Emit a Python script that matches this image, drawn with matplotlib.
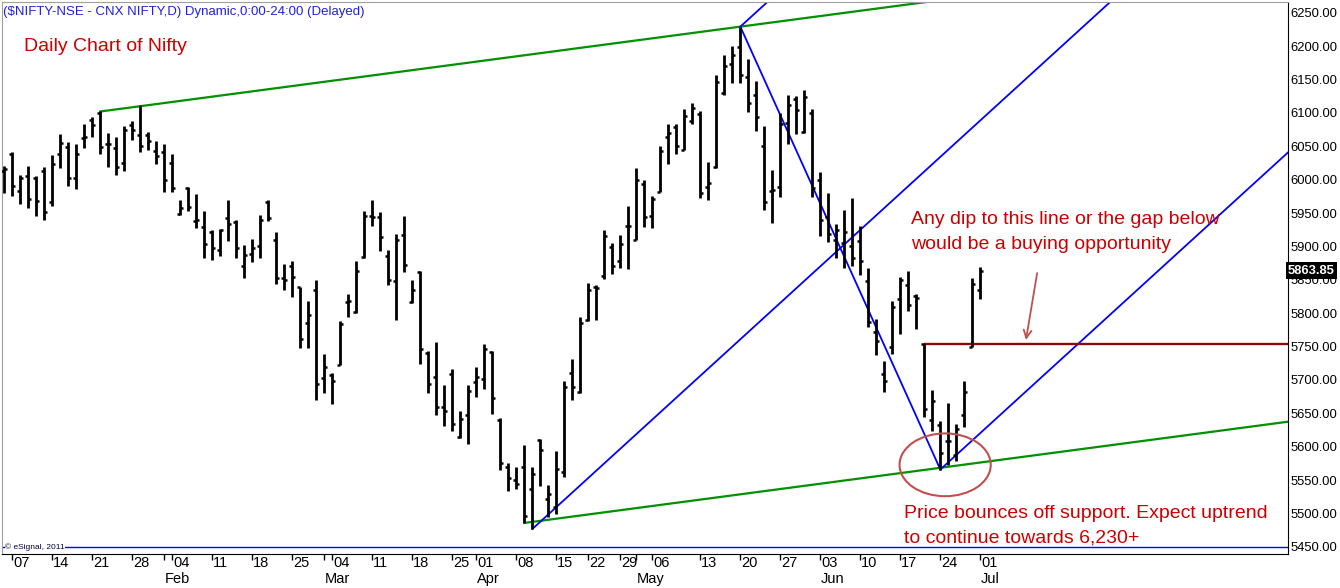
import numpy as np
import pandas as pd
import matplotlib
matplotlib.use('Agg')
import matplotlib.pyplot as plt
import matplotlib.transforms as mtransforms
from matplotlib.patches import Ellipse

plt.rcParams['font.family'] = ['Liberation Sans', 'DejaVu Sans']

#   Data (daily OHLC, CNX Nifty, Jan 4 - Jul 1 2013)
HOLIDAYS = ['2013-03-27', '2013-03-29', '2013-04-19', '2013-04-24', '2013-05-01']
EXTRA_SESSIONS = ['2013-05-11']

opens = [6013, 6039, 5983, 6006, 6003, 6013, 5967, 6039, 6049, 6002,
         6062, 6089, 6099, 6053, 6047, 6025, 6082, 6067, 6067, 6043,
         6042, 6025, 5948, 5988, 5938, 5929, 5921, 5894, 5943, 5937,
         5870, 5889, 5900, 5966, 5910, 5852, 5871, 5839, 5785, 5834,
         5703, 5707, 5723, 5817, 5802, 5884, 5946, 5944, 5885, 5848,
         5917, 5817, 5862, 5741, 5705, 5659, 5709, 5614, 5647, 5697,
         5702, 5742, 5640, 5570, 5551, 5570, 5537, 5610, 5522, 5510,
         5562, 5710, 5682, 5790, 5839, 5855, 5899, 5878, 5931, 5910,
         5993, 5945, 5982, 6064, 6079, 6045, 6088, 6098, 5989, 6019,
         6130, 6173, 6198, 6153, 6126, 6050, 5983, 5989, 6085, 6121,
         6071, 6099, 5999, 5944, 5909, 5905, 5900, 5908, 5848, 5772,
         5709, 5749, 5822, 5842, 5826, 5754, 5640, 5632, 5609, 5587,
         5647, 5749, 5835]
highs = [6020, 6041, 6007, 6020, 6005, 6019, 6037, 6068, 6056, 6053,
         6083, 6094, 6102, 6070, 6064, 6080, 6088, 6112, 6072, 6058,
         6053, 6038, 5970, 5989, 5978, 5953, 5924, 5926, 5969, 5939,
         5902, 5911, 5947, 5970, 5921, 5873, 5878, 5839, 5818, 5849,
         5739, 5711, 5789, 5828, 5878, 5953, 5970, 5951, 5894, 5919,
         5945, 5849, 5863, 5743, 5757, 5692, 5717, 5654, 5693, 5719,
         5754, 5743, 5643, 5576, 5569, 5603, 5569, 5611, 5543, 5593,
         5699, 5732, 5794, 5845, 5842, 5924, 5905, 5917, 5961, 6018,
         6000, 5976, 6050, 6083, 6084, 6105, 6114, 6103, 6026, 6157,
         6186, 6200, 6229, 6181, 6147, 6081, 6015, 6100, 6126, 6125,
         6134, 6105, 6011, 5980, 5934, 5955, 5972, 5931, 5867, 5792,
         5728, 5819, 5854, 5863, 5828, 5754, 5685, 5639, 5666, 5634,
         5698, 5852, 5869]
lows = [5980, 5976, 5964, 5958, 5946, 5940, 5961, 6018, 5991, 5986,
        6048, 6064, 6039, 6019, 6007, 6013, 6060, 6042, 6044, 6023,
        5982, 5981, 5947, 5953, 5927, 5883, 5879, 5886, 5908, 5883,
        5853, 5877, 5882, 5938, 5844, 5835, 5825, 5748, 5748, 5670,
        5680, 5664, 5722, 5794, 5801, 5882, 5930, 5893, 5842, 5790,
        5861, 5815, 5724, 5681, 5647, 5631, 5624, 5613, 5604, 5674,
        5687, 5649, 5565, 5534, 5537, 5486, 5477, 5542, 5495, 5500,
        5555, 5670, 5681, 5789, 5790, 5851, 5859, 5868, 5866, 5910,
        5929, 5927, 5982, 6023, 6039, 6045, 6083, 5972, 5969, 6018,
        6127, 6145, 6145, 6101, 6073, 5955, 5935, 5974, 6054, 6069,
        6070, 5974, 5915, 5906, 5882, 5868, 5870, 5857, 5780, 5738,
        5682, 5739, 5769, 5804, 5777, 5644, 5624, 5566, 5572, 5579,
        5630, 5749, 5822]
closes = [6016, 5990, 6002, 5971, 5968, 5952, 6023, 6055, 6003, 6039,
          6064, 6082, 6049, 6054, 6019, 6075, 6075, 6051, 6058, 6035,
          5999, 5988, 5958, 5959, 5939, 5904, 5898, 5924, 5934, 5898,
          5887, 5898, 5939, 5942, 5853, 5850, 5854, 5761, 5798, 5694,
          5719, 5699, 5784, 5818, 5863, 5946, 5944, 5914, 5850, 5910,
          5872, 5834, 5747, 5694, 5659, 5653, 5634, 5641, 5684, 5704,
          5747, 5673, 5575, 5554, 5545, 5496, 5560, 5595, 5530, 5567,
          5690, 5690, 5785, 5835, 5837, 5916, 5871, 5903, 5930, 5999,
          5944, 5971, 6043, 6070, 6050, 6095, 6107, 5980, 5995, 6146,
          6170, 6186, 6156, 6114, 6094, 5966, 5984, 6084, 6111, 6104,
          6124, 5987, 5939, 5919, 5924, 5921, 5882, 5878, 5787, 5759,
          5699, 5809, 5850, 5813, 5823, 5657, 5669, 5590, 5609, 5627,
          5682, 5844, 5863.85]

LAST_PRICE = 5863.85
Y_TICKS = np.arange(5450, 6251, 50)

# trend channel / pitchfork anchor bars
UPPER_ANCHORS = (12, 92)     # highs
LOWER_ANCHOR = 65            # low
FORK = (66, 92, 117)         # low, high, low
GAP_BAR = 115

TITLE = "($NIFTY-NSE - CNX NIFTY,D) Dynamic,0:00-24:00 (Delayed)"
RED = '#CC0000'
NOTE = '#C0504D'

dates = pd.bdate_range('2013-01-04', '2013-07-01')
dates = dates.drop(pd.to_datetime(HOLIDAYS)).union(pd.to_datetime(EXTRA_SESSIONS))
x = np.arange(len(dates))

fig = plt.figure(figsize=(13.4, 5.88), dpi=100)
ax = fig.add_axes([2 / 1340, 34 / 588, 1286 / 1340, 552 / 588])
XMAX = 160.46
ax.set_xlim(-0.3, XMAX)
ax.set_ylim(5439.5, 6265.9)

# price bars
ax.vlines(x, lows, highs, color='black', lw=2.0, zorder=3)
ax.hlines(opens, x - 0.38, x, color='black', lw=1.8, zorder=3)
ax.hlines(closes, x, x + 0.38, color='black', lw=1.8, zorder=3)

# green channel
i1, i2 = UPPER_ANCHORS
slope = (highs[i2] - highs[i1]) / (i2 - i1)
xs = np.array([i1, 200])
ax.plot(xs, highs[i1] + slope * (xs - i1), color='#009000', lw=1.6, zorder=2)
xs = np.array([LOWER_ANCHOR, 200])
ax.plot(xs, lows[LOWER_ANCHOR] + slope * (xs - LOWER_ANCHOR), color='#009000', lw=1.6, zorder=2)

# pitchfork
a, b, c = FORK
pa, pb, pc = lows[a], highs[b], lows[c]
mid_x, mid_y = (b + c) / 2, (pb + pc) / 2
fslope = (mid_y - pa) / (mid_x - a)
for x0, y0 in [(a, pa), (b, pb), (c, pc)]:
    ax.plot([x0, 200], [y0, y0 + fslope * (200 - x0)], color='#0000FF', lw=1.3, zorder=2)
ax.plot([b, c], [pb, pc], color='#0000FF', lw=1.3, zorder=2)

# gap line
ax.hlines(highs[GAP_BAR], GAP_BAR, XMAX, color='#8B0A0A', lw=1.7, zorder=2)

# bottom separator
ax.axhline(5450, color='#0000FF', lw=1, zorder=1)
ax.text(0.1, 5450, "\u00a9 eSignal, 2011", fontsize=6, va='center', ha='left',
        color='#000040', zorder=4,
        bbox=dict(facecolor='white', edgecolor='none', pad=0.3))

# annotations
ax.text(-0.16, 6247, TITLE, fontsize=9.5, color='#2020DD', va='baseline', ha='left')
ax.text(2.46, 6193, "Daily Chart of Nifty", fontsize=14, color=RED, va='baseline')
ax.text(113.3, 5933, "Any dip to this line or the gap below", fontsize=14, color=RED, va='baseline')
ax.text(113.3, 5896, "would be a buying opportunity", fontsize=14, color=RED, va='baseline')
ax.text(112.5, 5493, "Price bounces off support. Expect uptrend", fontsize=14, color=RED, va='baseline')
ax.text(112.5, 5456, "to continue towards 6,230+", fontsize=14, color=RED, va='baseline')

ax.annotate('', xy=(127.7, 5760), xytext=(129.1, 5860),
            arrowprops=dict(arrowstyle='->', color=NOTE, lw=1.3,
                            shrinkA=0, shrinkB=0, mutation_scale=14))
ax.add_patch(Ellipse((117.6, 5573), 11.4, 94, fill=False, edgecolor=NOTE, lw=1.5, zorder=4))

# axes styling
ax.yaxis.tick_right()
ax.set_yticks(Y_TICKS)
ax.set_yticklabels(['%.2f' % v for v in Y_TICKS])
ax.tick_params(axis='y', length=0, pad=2, labelsize=9.4)

week_idx = [i for i, d in enumerate(dates) if d.weekday() == 0]
month_idx = [i for i in range(1, len(dates)) if dates[i].month != dates[i - 1].month]
ax.set_xticks(sorted(set(week_idx + month_idx)))
ax.tick_params(axis='x', length=4, width=1, direction='out', labelbottom=False)

trans = mtransforms.blended_transform_factory(ax.transData, ax.transAxes)
for i in week_idx:
    ax.text(i + 0.1, -0.0165, dates[i].strftime('%d'), transform=trans,
            ha='left', va='center', fontsize=10.5, clip_on=False)
for i in month_idx:
    ax.text(i + 0.1, -0.0455, dates[i].strftime('%b'), transform=trans,
            ha='left', va='center', fontsize=10.5, clip_on=False)

ytrans = mtransforms.blended_transform_factory(ax.transAxes, ax.transData)
ax.text(1.0, LAST_PRICE, '%.2f' % LAST_PRICE, transform=ytrans, ha='left', va='center',
        fontsize=9.4, fontweight='bold', color='white', zorder=6, clip_on=False,
        bbox=dict(facecolor='black', edgecolor='none', pad=1.5))

for side in ['left', 'top']:
    ax.spines[side].set_color('#A0A0A0')
for side in ['right', 'bottom']:
    ax.spines[side].set_color('black')

fig.savefig('out.png', dpi=100, facecolor='white')
plt.close(fig)
